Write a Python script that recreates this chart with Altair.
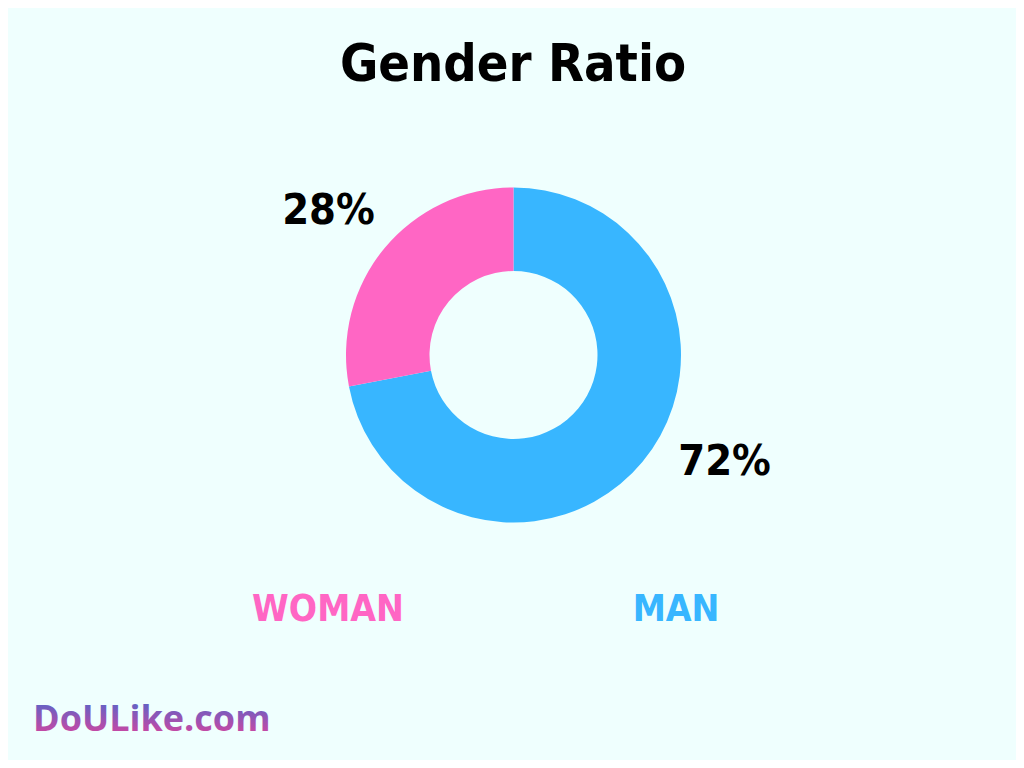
"""Gender ratio donut — Altair layered chart with text annotations."""

import altair as alt
import pandas as pd

# data
genders = ["MAN", "WOMAN"]
shares = [72, 28]
legend_order = ["WOMAN", "MAN"]
colors = ["#ff66c4", "#38b6ff"]
title_text = "Gender Ratio"
brand_text = "DoULike.com"

W, H = 1008, 752
CX, CY = 505.5, 347
NARROW = "DejaVu Sans Condensed, sans-serif"

df = pd.DataFrame({"gender": genders, "share": shares})

color = alt.Color(
    "gender:N",
    scale=alt.Scale(domain=legend_order, range=colors),
    legend=None,
)
theta = alt.Theta("share:Q", stack=True)
order = alt.Order("gender:N", sort="ascending")

base = alt.Chart(df)

donut = base.mark_arc(outerRadius=167.5, innerRadius=84).encode(
    theta=theta,
    order=order,
    color=color,
    x=alt.value(CX),
    y=alt.value(CY),
)


def pct_label(name, dx, dy):
    return (
        base.transform_calculate(label="datum.share + '%'")
        .mark_text(
            radius=235,
            font=NARROW,
            fontWeight="bold",
            fontSize=43,
            color="black",
            align="center",
            baseline="middle",
            dx=dx,
            dy=dy,
        )
        .encode(
            theta=theta,
            order=order,
            text="label:N",
            x=alt.value(CX),
            y=alt.value(CY),
            opacity=alt.condition(alt.datum.gender == name, alt.value(1), alt.value(0)),
        )
    )


woman_pct = pct_label("WOMAN", -4, 6)
man_pct = pct_label("MAN", 30, -43)

legend_text = base.mark_text(
    font=NARROW,
    fontWeight="bold",
    fontSize=37,
    align="center",
    baseline="middle",
).encode(
    x=alt.X(
        "gender:N",
        scale=alt.Scale(domain=legend_order, range=[320, 668], padding=0),
        axis=None,
    ),
    y=alt.value(602),
    text="gender:N",
    color=color,
)

title = (
    alt.Chart(pd.DataFrame({"t": [title_text]}))
    .mark_text(
        font=NARROW,
        fontWeight="bold",
        fontSize=52,
        color="black",
        align="center",
        baseline="middle",
    )
    .encode(text="t:N", x=alt.value(W / 2 + 1), y=alt.value(57))
)

brand = (
    alt.Chart(pd.DataFrame({"t": [brand_text]}))
    .mark_text(
        font="Open Sans, DejaVu Sans, sans-serif",
        fontWeight="bold",
        fontSize=36,
        align="left",
        baseline="middle",
        color=alt.Gradient(
            gradient="linear",
            stops=[
                alt.GradientStop(color="#3f6bd0", offset=0),
                alt.GradientStop(color="#e8409a", offset=1),
            ],
            x1=0,
            x2=0,
            y1=0,
            y2=1,
        ),
    )
    .encode(text="t:N", x=alt.value(25), y=alt.value(712))
)

chart = (
    alt.layer(donut, woman_pct, man_pct, legend_text, title, brand)
    .properties(
        width=W,
        height=H,
        autosize=alt.AutoSizeParams(type="none"),
        padding=0,
        background="#effffe",
    )
    .configure_view(stroke=None)
)

chart.save("out.html", embed_options={"renderer": "svg", "actions": False})
